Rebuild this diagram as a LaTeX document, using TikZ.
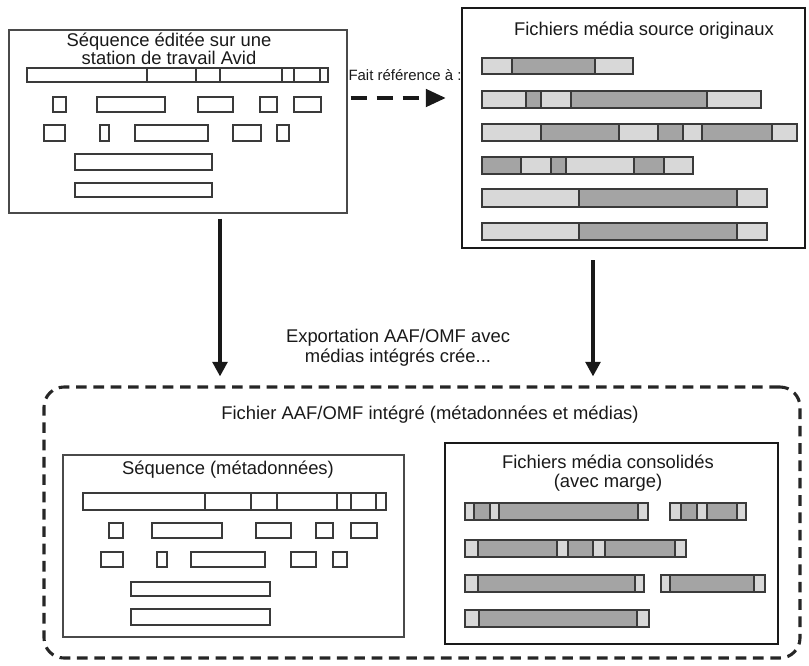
\documentclass[tikz,border=0pt]{standalone}
\usepackage{fontspec}
\setmainfont{Liberation Sans}
\usetikzlibrary{arrows.meta,fit}
\definecolor{L}{HTML}{D8D8D8}
\definecolor{D}{HTML}{A4A4A4}
\definecolor{W}{HTML}{FFFFFF}
\definecolor{segline}{HTML}{3A3A3A}
\definecolor{boxline}{HTML}{4A4A4A}
\newcommand\segrow[3]{\foreach \xa/\xb/\cc in {#3}{\draw[seg,fill=\cc] (\xa,#1) rectangle (\xb,#2);}}
\begin{document}
\begin{tikzpicture}[x=0.75pt,y=-0.75pt,
  seg/.style={draw=segline,line width=0.9pt},
  thinbox/.style={draw=boxline,line width=1.1pt,inner sep=0pt},
  thickbox/.style={draw=black!90,line width=1.8pt,inner sep=0pt},
  outerbox/.style={draw=black!85,line width=2.3pt,inner sep=0pt,rounded corners=15pt,dash pattern=on 8pt off 5pt},
  txt/.style={inner sep=0pt,align=center,text=black!90,font=\fontsize{13.8}{15}\selectfont},
  smalltxt/.style={inner sep=0pt,text=black!90,font=\fontsize{11.2}{13}\selectfont},
  solidarrow/.style={draw=black!90,line width=2.9pt,-{Triangle[length=11pt,width=11pt]}},
  dasharrow/.style={draw=black!90,line width=2.9pt,dash pattern=on 12pt off 7.5pt,-{Triangle[length=15pt,width=13pt]}}]
\useasboundingbox (0,0) rectangle (809,665);

% main boxes
\node[thinbox, fit={(9,30) (347,213)}] (tl) {};
\node[thickbox, fit={(462,8) (805,248)}] (tr) {};
\node[outerbox, fit={(44,387) (800,658)}] (out) {};
\node[thinbox, fit={(63,455) (404,637)}] (bl) {};
\node[thickbox, line width=1.5pt, fit={(445,443) (778,644)}] (br) {};

% texts
\node[txt, font=\fontsize{13.8}{11.3}\selectfont] (tltitle) at (169,49) {Séquence éditée sur une\\station de travail Avid};
\node[smalltxt] (ref) at (405,75) {Fait référence à :};
\node[txt] (trtitle) at (644,31) {Fichiers média source originaux};
\node[txt] (export) at (398,348) {Exportation AAF/OMF avec\\médias intégrés crée...};
\node[txt] (outtitle) at (430,415) {Fichier AAF/OMF intégré (métadonnées et médias)};
\node[txt] (bltitle) at (228,470) {Séquence (métadonnées)};
\node[txt, font=\fontsize{13.8}{14.3}\selectfont] (brtitle) at (608,473) {Fichiers média consolidés\\(avec marge)};

% connectors
\coordinate (refy) at (0,98);
\coordinate (lx) at (220,0);
\coordinate (rx) at (593,0);
\draw[dasharrow, shorten <=2.25pt, shorten >=11.25pt] (tl.east |- refy) -- (tr.west |- refy);
\draw[solidarrow, shorten <=3.75pt, shorten >=6.75pt] (tl.south -| lx) -- (out.north -| lx);
\draw[solidarrow, shorten <=8.25pt, shorten >=6.75pt] (tr.south -| rx) -- (out.north -| rx);

% top-left sequence
\segrow{68}{82}{27/147/W,147/196/W,196/220/W,220/282/W,282/294/W,294/320/W,320/328/W}
\segrow{97}{112}{53/66/W,97/165/W,198/233/W,260/277/W,294/321/W}
\segrow{125}{141}{44/65/W,100/109/W,135/208/W,233/261/W,277/289/W}
\segrow{154}{170}{75/212/W}
\segrow{183}{197}{75/212/W}

% top-right source media
\segrow{58}{74}{482/512/L,512/595/D,595/633/L}
\segrow{91}{108}{482/526/L,526/541/D,541/571/L,571/707/D,707/761/L}
\segrow{124}{141}{482/541/L,541/619/D,619/658/L,658/683/D,683/702/L,702/772/D,772/797/L}
\segrow{157}{174}{482/521/D,521/551/L,551/566/D,566/634/L,634/664/D,664/693/L}
\segrow{189}{207}{482/579/L,579/737/D,737/767/L}
\segrow{223}{240}{482/579/L,579/737/D,737/767/L}

% bottom-left sequence
\segrow{493}{510}{83/205/W,205/251/W,251/277/W,277/337/W,337/351/W,351/376/W,376/386/W}
\segrow{523}{538}{109/123/W,152/222/W,256/291/W,316/333/W,351/377/W}
\segrow{552}{567}{101/123/W,157/167/W,191/265/W,291/316/W,333/347/W}
\segrow{582}{596}{131/270/W}
\segrow{609}{625}{131/270/W}

% bottom-right consolidated media
\segrow{503}{520}{465/474/L,474/490/D,490/499/L,499/638/D,638/648/L}
\segrow{503}{520}{670/681/L,681/697/D,697/707/L,707/737/D,737/746/L}
\segrow{540}{557}{465/478/L,478/557/D,557/568/L,568/593/D,593/605/L,605/675/D,675/686/L}
\segrow{575}{592}{465/478/L,478/635/D,635/644/L}
\segrow{575}{592}{661/670/L,670/754/D,754/765/L}
\segrow{610}{627}{465/479/L,479/637/D,637/649/L}
\end{tikzpicture}
\end{document}
